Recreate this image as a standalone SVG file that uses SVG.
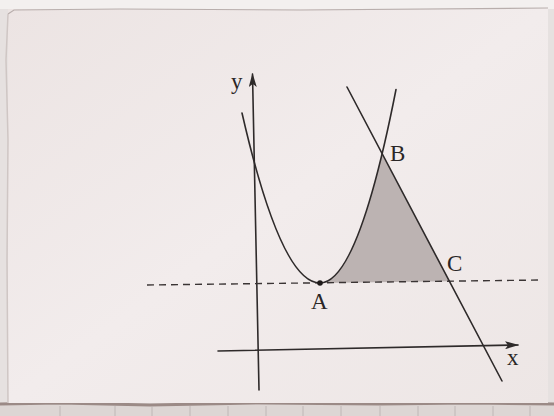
<svg xmlns="http://www.w3.org/2000/svg" width="554" height="416" viewBox="0 0 554 416">
  <defs>
    <style>
      .ln { fill: none; stroke: #2e2a2a; stroke-width: 1.6; stroke-linecap: round; }
      .dash { fill: none; stroke: #3a3434; stroke-width: 1.4; stroke-dasharray: 7 5; }
      .lbl { font-family: "Liberation Serif", "Times New Roman", serif; font-size: 23px; fill: #2a2626; }
    </style>
    <marker id="arrow" viewBox="0 0 14 8" refX="13" refY="4" markerWidth="14" markerHeight="8" markerUnits="userSpaceOnUse" orient="auto">
      <path d="M0,0 L14,4 L0,8 L3,4 Z" fill="#2e2a2a"/>
    </marker>
    <linearGradient id="paper" x1="0" y1="0" x2="1" y2="1">
      <stop offset="0" stop-color="#ece4e3"/>
      <stop offset="0.5" stop-color="#f2ecec"/>
      <stop offset="1" stop-color="#ede6e5"/>
    </linearGradient>
  </defs>

  <g id="background">
    <rect x="0" y="0" width="554" height="416" fill="#e6e1e0"/>
    <rect x="0" y="0" width="554" height="9" fill="#f3f0ef"/>
    <rect x="0" y="405" width="554" height="11" fill="#ddd6d4"/>
    <path d="M0,404 L60,403 L150,405 L260,403 L380,404 L470,403 L554,404" fill="none" stroke="#9b8a86" stroke-width="3"/>
    <g stroke="#b9b0ae" stroke-width="0.8">
      <line x1="60" y1="406" x2="60" y2="416"/><line x1="115" y1="406" x2="115" y2="416"/>
      <line x1="152" y1="406" x2="152" y2="416"/><line x1="190" y1="406" x2="190" y2="416"/>
      <line x1="228" y1="406" x2="228" y2="416"/><line x1="266" y1="406" x2="266" y2="416"/>
      <line x1="303" y1="406" x2="303" y2="416"/><line x1="341" y1="406" x2="341" y2="416"/>
      <line x1="380" y1="406" x2="380" y2="416"/><line x1="418" y1="406" x2="418" y2="416"/>
      <line x1="455" y1="406" x2="455" y2="416"/><line x1="493" y1="406" x2="493" y2="416"/>
      <line x1="530" y1="406" x2="530" y2="416"/>
    </g>
    <rect x="8" y="9" width="540" height="394" fill="url(#paper)"/>
    <path d="M8,14 L14,10 L120,9 L300,10 L548,8" fill="none" stroke="#b8aeac" stroke-width="1.2"/>
    <path d="M8,14 L6,60 L8,140 L7,260 L8,403" fill="none" stroke="#cfc6c4" stroke-width="1.5"/>
  </g>

  <g id="region">
    <path d="M320,283 Q351,283 382,154.2 L449.4,281.3 Z" fill="#bcb3b2"/>
  </g>

  <g id="connectors">
    <line id="x-axis" class="ln" x1="218" y1="351" x2="518" y2="345" marker-end="url(#arrow)"/>
    <line id="y-axis" class="ln" x1="259" y1="390" x2="252.5" y2="74" marker-end="url(#arrow)"/>
    <line id="dashed-line" class="dash" x1="147" y1="285" x2="541" y2="280"/>
    <line id="line-BC" class="ln" x1="347" y1="87" x2="502" y2="381"/>
    <path id="parabola" class="ln" d="M242,113 Q281,283 320,283 Q358,283 396,89.5"/>
  </g>

  <g id="point-A">
    <circle cx="320" cy="283" r="2.8" fill="#1e1a1a"/>
    <text class="lbl" x="311" y="309">A</text>
  </g>
  <g id="point-B">
    <text class="lbl" x="390" y="161">B</text>
  </g>
  <g id="point-C">
    <text class="lbl" x="447" y="271">C</text>
  </g>
  <g id="axis-labels">
    <text class="lbl" x="231" y="89">y</text>
    <text class="lbl" x="507" y="365">x</text>
  </g>
</svg>
